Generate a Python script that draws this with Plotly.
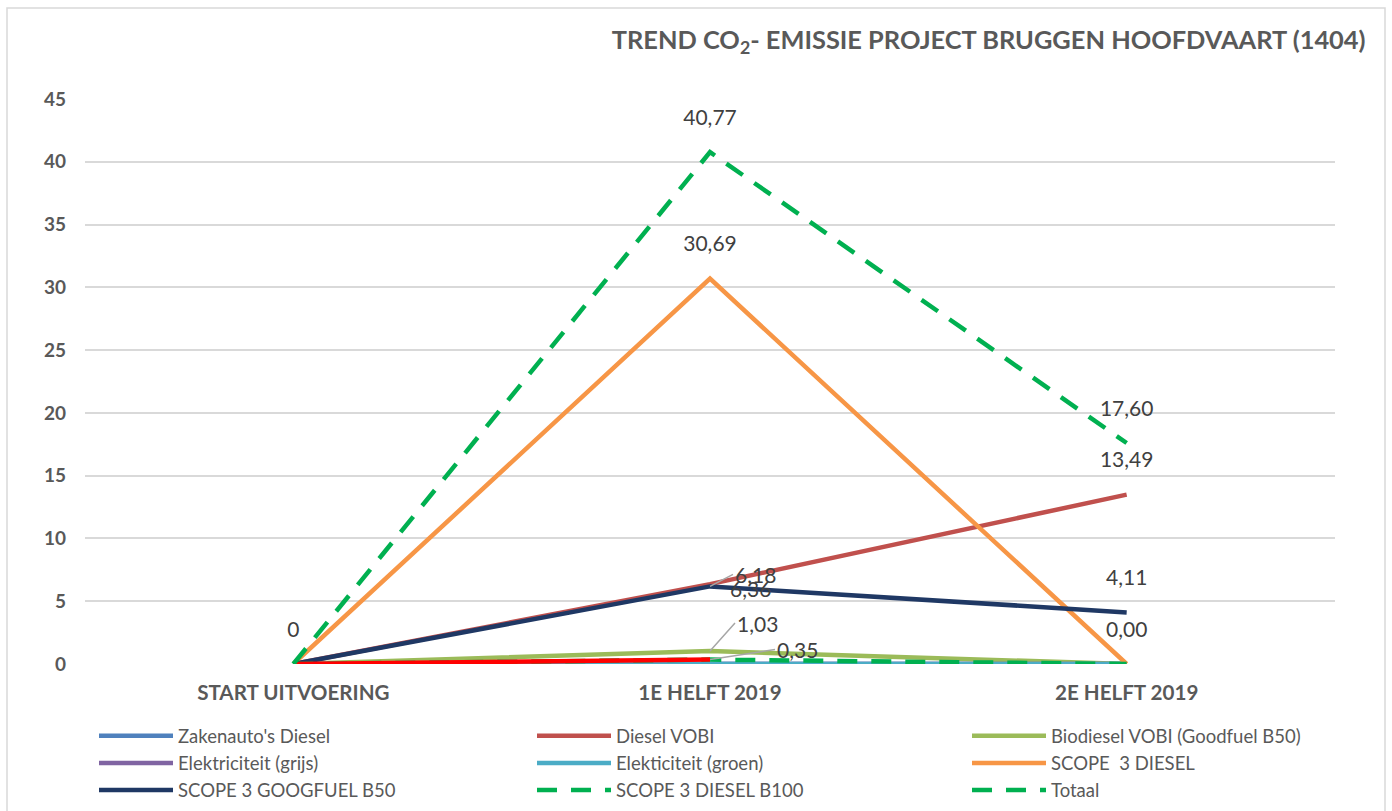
import plotly.graph_objects as go

categories = ["START UITVOERING", "1E HELFT 2019", "2E HELFT 2019"]
y_ticks = [0, 5, 10, 15, 20, 25, 30, 35, 40, 45]

zakenauto = [0, 0, 0]
diesel_vobi = [0, 6.36, 13.49]
biodiesel_vobi = [0, 1.03, 0]
elek_grijs = [0, 0, 0]
elek_groen = [0, 0, 0]
scope3_diesel = [0, 30.69, 0]
scope3_b50 = [0, 6.18, 4.11]
scope3_b100 = [0, 0.35, 0]
totaal = [0, 40.77, 17.60]

def fmt(v):
    return f"{v:.2f}".replace(".", ",")

x = list(range(len(categories)))
fig = go.Figure()
LW = 4.5
FONT = "Lato, 'Open Sans', sans-serif"
LBL = dict(family=FONT, size=21, color="#404040")

def add(name, vals, color, legend, dash="solid"):
    fig.add_trace(go.Scatter(
        x=x, y=vals, name=name, mode="lines",
        line=dict(color=color, width=LW, dash=dash),
        legend=legend, cliponaxis=False, hoverinfo="y"))

def labels(vals, text):
    fig.add_trace(go.Scatter(
        x=x, y=vals, mode="markers+text", text=text,
        marker=dict(size=34, opacity=0), textposition="top center",
        textfont=LBL, showlegend=False, cliponaxis=False, hoverinfo="skip"))

add("Zakenauto's Diesel", zakenauto, "#4F81BD", "legend")
add("Diesel VOBI", diesel_vobi, "#C0504D", "legend2")
add("Biodiesel VOBI (Goodfuel B50)", biodiesel_vobi, "#9BBB59", "legend3")
add("Elektriciteit (grijs)", elek_grijs, "#8064A2", "legend")
add("Elekticiteit (groen)", elek_groen, "#4BACC6", "legend2")
add("SCOPE  3 DIESEL", scope3_diesel, "#F79646", "legend3")
add("SCOPE 3 GOOGFUEL B50", scope3_b50, "#1F3864", "legend")
add("SCOPE 3 DIESEL B100", scope3_b100, "#00B050", "legend2", dash="20px,14px")
# first segment of B100 drawn in red (as in reference)
fig.add_trace(go.Scatter(x=x[:2], y=scope3_b100[:2], mode="lines",
                         line=dict(color="#FF0000", width=LW), showlegend=False))
add("Totaal", totaal, "#00B050", "legend3", dash="20px,14px")

labels(diesel_vobi, ["", "", fmt(diesel_vobi[2])])
labels(scope3_diesel, ["", fmt(scope3_diesel[1]), fmt(scope3_diesel[2])])
labels(scope3_b50, ["", "", fmt(scope3_b50[2])])
labels(totaal, ["0", fmt(totaal[1]), fmt(totaal[2])])

# leader-line labels at the middle category
for val, ax, ay, show in [(scope3_b50[1], 23, -12, True), (diesel_vobi[1], 18, 4, False),
                          (biodiesel_vobi[1], 25, -28, True), (scope3_b100[1], 65, -10, True)]:
    fig.add_annotation(x=1, y=val, text=fmt(val), showarrow=True,
                       arrowhead=0, arrowwidth=1.5,
                       arrowcolor="#A6A6A6" if show else "rgba(0,0,0,0)",
                       ax=ax, ay=ay, xanchor="left", font=LBL, standoff=0)

# chart-area border
fig.add_shape(type="rect", xref="paper", yref="paper",
              x0=(7 - 85) / 1250, x1=(1385 - 85) / 1250,
              y0=(664 - 812) / 565, y1=(664 - 8) / 565,
              line=dict(color="#D9D9D9", width=1.5), layer="below")

legend_common = dict(orientation="v", xref="container", yref="container",
                     xanchor="left", y=0.1155, yanchor="top",
                     font=dict(family=FONT, size=18.5, color="#595959"),
                     itemwidth=74, tracegroupgap=0, bgcolor="rgba(0,0,0,0)",
                     traceorder="normal")

fig.update_layout(
    width=1392, height=811,
    paper_bgcolor="white", plot_bgcolor="white",
    margin=dict(l=85, r=57, t=99, b=147, autoexpand=False),
    title=dict(text="TREND CO<sub>2</sub>- EMISSIE PROJECT BRUGGEN HOOFDVAART (1404)",
               x=0.981, xanchor="right", y=0.951, yanchor="middle",
               font=dict(family=FONT, size=25.4, color="#595959", weight="bold")),
    xaxis=dict(tickvals=x, ticktext=categories, range=[-0.5, 2.5],
               showgrid=False, zeroline=False, showline=False, ticks="",
               tickfont=dict(family=FONT, size=20.6, color="#595959", weight="bold"),
               ticklabelstandoff=14),
    yaxis=dict(range=[0, 45], tickvals=y_ticks, showgrid=True, gridcolor="#D9D9D9",
               gridwidth=1.5, zeroline=False, showline=False, ticks="",
               tickfont=dict(family=FONT, size=19, color="#595959", weight="bold"),
               ticklabelstandoff=18),
    legend=dict(x=94 / 1392, **legend_common),
    legend2=dict(x=532 / 1392, **legend_common),
    legend3=dict(x=967 / 1392, **legend_common),
    showlegend=True,
)
fig.write_html("out.html", config={"displayModeBar": False},
               post_script="document.body.style.margin='0';")
